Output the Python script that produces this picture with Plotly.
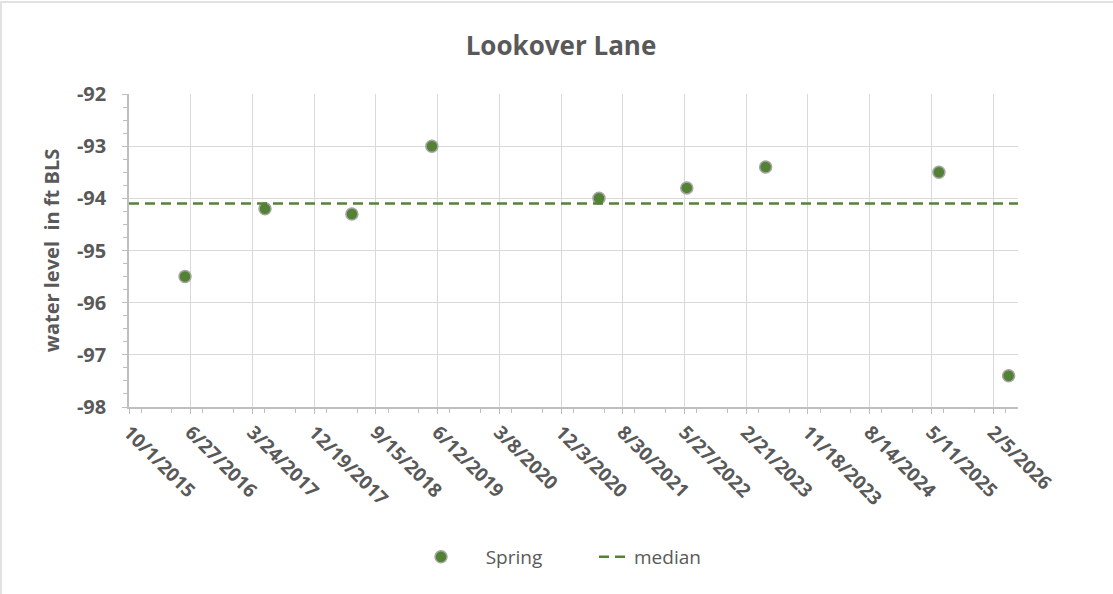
import plotly.graph_objects as go

# spring measurements
dates = ["2016-06-02", "2017-05-18", "2018-06-02", "2019-05-18", "2021-05-18",
         "2022-06-06", "2023-05-17", "2025-06-13", "2026-04-14"]
levels = [-95.5, -94.2, -94.3, -93.0, -94.0, -93.8, -93.4, -93.5, -97.4]

median_level = -94.1
x_range = ["2015-10-01", "2026-05-25"]
y_ticks = [-98, -97, -96, -95, -94, -93, -92]
y_labels = ["-98", "-97", "-96", "-95", "-94", "-93", "-92"]

DAY = 86400000
W, H = 1113, 594
ML, MR, MT, MB = 129, 95, 94, 187
pw, ph = W - ML - MR, H - MT - MB

green = "#548235"
grey_txt = "#595959"
font = "'Open Sans', sans-serif"

fig = go.Figure()
fig.add_trace(go.Scatter(
    x=dates, y=levels, mode="markers", name="     Spring",
    marker=dict(color=green, size=12, line=dict(color="#A5A5A5", width=1.5)),
))
fig.add_trace(go.Scatter(
    x=x_range, y=[median_level, median_level], mode="lines", name="median",
    line=dict(color=green, width=2.5, dash="10px,6px"),
))

fig.update_layout(
    width=W, height=H,
    margin=dict(l=ML, r=MR, t=MT, b=MB),
    plot_bgcolor="white", paper_bgcolor="white",
    font=dict(family=font, color=grey_txt),
    title=dict(text="<b>Lookover Lane</b>", x=(561 - ML) / pw, xref="paper", xanchor="center",
               y=1 - 46 / H, yanchor="middle",
               font=dict(size=26, color=grey_txt)),
    legend=dict(orientation="h", x=(421 - ML) / pw, xanchor="left",
                y=-(557 - (MT + ph)) / ph, yanchor="middle",
                entrywidth=128, entrywidthmode="pixels",
                font=dict(size=19, color=grey_txt)),
    showlegend=True,
)

fig.update_xaxes(
    type="date", range=x_range,
    tick0="2015-10-01", dtick=270 * DAY, tickformat="%-m/%-d/%Y",
    tickangle=45, tickfont=dict(size=19, family=font, color=grey_txt, weight="bold"),
    showgrid=True, gridcolor="#D9D9D9", gridwidth=1,
    showline=True, linecolor="#BFBFBF", linewidth=1.5,
    ticks="outside", ticklen=5, tickcolor="#BFBFBF",
    minor=dict(dtick=135 * DAY, ticks="outside", ticklen=4, tickcolor="#BFBFBF", showgrid=False),
    zeroline=False,
)
fig.update_yaxes(
    range=[y_ticks[0], y_ticks[-1]], tickmode="array", tickvals=y_ticks, ticktext=y_labels,
    tickfont=dict(size=20, family=font, color=grey_txt, weight="bold"),
    ticklabelstandoff=12,
    title=dict(text="<b>water level  in ft BLS</b>", font=dict(size=20, color=grey_txt), standoff=12),
    showgrid=True, gridcolor="#D9D9D9", gridwidth=1,
    showline=True, linecolor="#BFBFBF", linewidth=1.5,
    ticks="outside", ticklen=5, tickcolor="#BFBFBF",
    minor=dict(dtick=0.25, ticks="outside", ticklen=4, tickcolor="#BFBFBF", showgrid=False),
    zeroline=False,
)

# chart border (only top and left edges fall inside the picture)
fig.add_shape(type="rect", xref="paper", yref="paper",
              x0=(1 - ML) / pw, x1=(W + 10 - ML) / pw,
              y0=-(H + 10 - MT - ph) / ph, y1=1 + (MT - 2) / ph,
              line=dict(color="#D9D9D9", width=1.5))

fig.write_html("out.html", config={"displayModeBar": False},
               post_script="document.body.style.margin='0';")
